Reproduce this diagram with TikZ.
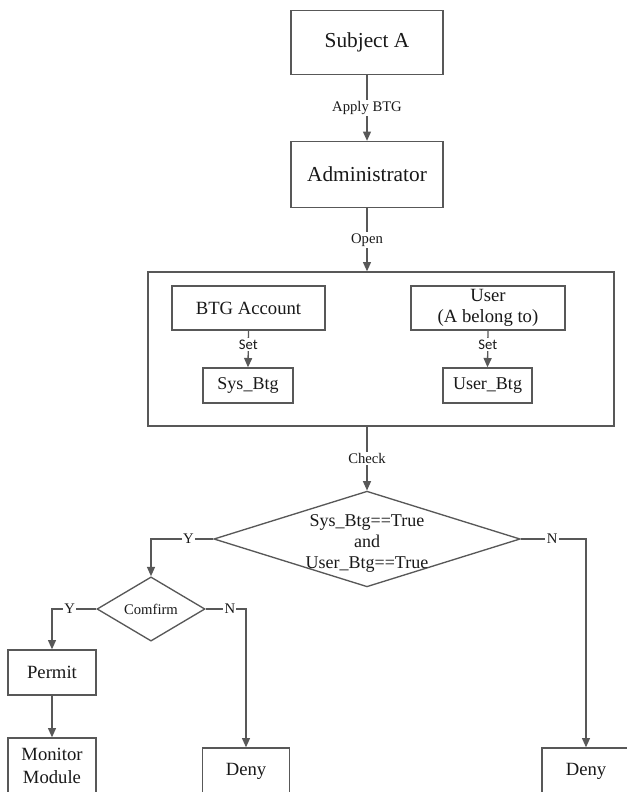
\documentclass[tikz,border=0pt]{standalone}
\usepackage{fontspec}
\setmainfont{Liberation Serif}
\newfontfamily\setfont{Carlito}
\usepackage{tikz}
\usetikzlibrary{positioning,shapes.geometric,arrows.meta,calc}
\definecolor{linegray}{RGB}{88, 88, 88}
\definecolor{textblack}{RGB}{25, 25, 25}

\begin{document}
\begin{tikzpicture}[
    x=0.75pt, y=-0.75pt,
    box/.style={rectangle, draw=linegray, line width=1pt, fill=white, align=center, text=textblack, inner sep=0pt},
    cond/.style={diamond, draw=linegray, line width=1pt, fill=white, align=center, text=textblack, inner sep=0pt},
    flow/.style={-{Triangle[length=7pt, width=6pt]}, line width=1pt, linegray},
    tag/.style={fill=white, inner sep=1pt, text=textblack, font=\fontsize{11}{12}\selectfont}
]
\useasboundingbox (0,0) rectangle (627,792);
\node[box, minimum width=114pt, minimum height=48pt, font=\fontsize{16}{18}\selectfont] (subj) at (367, 42.5) {Subject A};
\node[box, minimum width=114pt, minimum height=49.5pt, font=\fontsize{16}{18}\selectfont] (admin) at (367, 174.5) {Administrator};
\node[box, minimum width=349.5pt, minimum height=115.5pt] (frame) at (381, 349) {};
\node[box, minimum width=114.75pt, minimum height=33pt, font=\fontsize{14}{16}\selectfont] (btg) at (248.5, 308) {BTG Account};
\node[box, minimum width=115.5pt, minimum height=33pt, font=\fontsize{14}{15.5}\selectfont] (usr) at (488, 308) {User\\(A belong to)};
\node[box, minimum width=67.5pt, minimum height=26.25pt, font=\fontsize{13.5}{16}\selectfont] (sysb) at (248, 385.5) {Sys\_Btg};
\node[box, minimum width=66.75pt, minimum height=26.25pt, font=\fontsize{13.5}{16}\selectfont] (usrb) at (487.5, 385.5) {User\_Btg};
\node[cond, aspect=3.2, inner sep=-1.6pt, minimum width=228.75pt, minimum height=70.5pt, font=\fontsize{13.5}{15.75}\selectfont] (chk) at (367, 539)
    {\raisebox{-3pt}[\height][\depth]{\begin{tabular}{@{}c@{}}Sys\_Btg==True\\and\\User\_Btg==True\end{tabular}}};
\node[cond, minimum width=81pt, minimum height=48pt, font=\fontsize{11}{13}\selectfont] (cfm) at (151, 609) {Comfirm};
\node[box, minimum width=66pt, minimum height=33.75pt, font=\fontsize{14}{16}\selectfont] (permit) at (52, 672.5) {Permit};
\node[box, minimum width=66pt, minimum height=42pt, font=\fontsize{14}{17.5}\selectfont] (mon) at (52, 766) {Monitor\\Module};
\node[box, minimum width=65.25pt, minimum height=34.5pt, font=\fontsize{14}{16}\selectfont] (deny1) at (246, 771) {Deny};
\node[box, minimum width=66pt, minimum height=34.5pt, font=\fontsize{14}{16}\selectfont] (deny2) at (586, 771) {Deny};
\draw[flow] (subj.south) -- (admin.north) node[tag, midway] {Apply BTG};
\draw[flow] (admin.south) -- (admin.south |- frame.north) node[tag, midway] {Open};
\draw[flow] (btg.south) -- (sysb.north) node[tag, pos=0.38, font=\setfont\fontsize{11}{12}\selectfont] {Set};
\draw[flow] (usr.south) -- (usrb.north) node[tag, pos=0.38, font=\setfont\fontsize{11}{12}\selectfont] {Set};
\draw[flow] (chk.north |- frame.south) -- (chk.north) node[tag, midway] {Check};
\draw[flow] (chk.west) -| (cfm.north) node[tag, pos=0.2] {Y};
\draw[flow] (chk.east) -| (deny2.north) node[tag, pos=0.24] {N};
\draw[flow] (cfm.west) -| (permit.north) node[tag, pos=0.3] {Y};
\draw[flow] (cfm.east) -| (deny1.north) node[tag, pos=0.3] {N};
\draw[flow] (permit.south) -- (mon.north);
\end{tikzpicture}
\end{document}
